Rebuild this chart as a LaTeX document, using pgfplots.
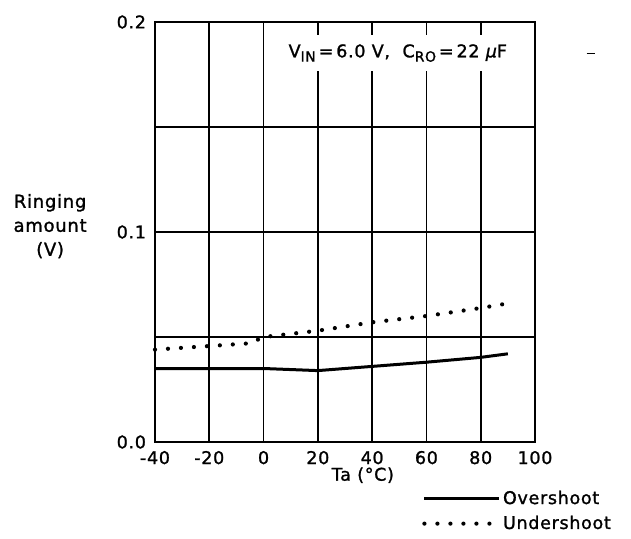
\documentclass[border=0pt]{standalone}
\usepackage{fontspec}
\setmainfont{DejaVu Sans}[LetterSpace=4, FakeBold=1.3]
\usepackage{pgfplots}
\pgfplotsset{compat=1.18}
\begin{document}
\fontsize{17.5}{24}\selectfont
\begin{tikzpicture}
\path[use as bounding box] (-155pt,-96pt) rectangle (476pt,442pt);
\begin{axis}[
  scale only axis, width=380pt, height=420pt,
  anchor=south west, at={(0pt,0pt)},
  xmin=-40, xmax=100, ymin=0, ymax=0.2,
  xtick={-40,-20,...,100}, ytick={0,0.1,0.2},
  extra y ticks={0.05,0.15}, extra y tick labels={},
  extra y tick style={grid=major},
  grid=major, major grid style={black, line width=1.8pt},
  axis line style={line width=2pt},
  major tick length=0pt,
  tick label style={font=\fontsize{17.5}{20}\selectfont},
  /pgf/number format/assume math mode=true,
  yticklabel style={/pgf/number format/fixed, /pgf/number format/fixed zerofill, /pgf/number format/precision=1, xshift=-3pt},
  xticklabel style={yshift=-3pt},
  xlabel={Ta (°C)},
  xlabel style={at={(rel axis cs:0.547,-0.079)}, anchor=center},
  clip=false,
  legend style={at={(rel axis cs:0.703,-0.112)}, anchor=north west, draw=none, fill=none, inner sep=0pt, row sep=6pt, font=\fontsize{17.5}{20}\selectfont, nodes={inner sep=1.5pt}},
  legend cell align=left,
  legend image code/.code={\draw[#1] (0pt,0pt) -- (75pt,0pt);},
]
\addplot[black, line width=3pt] coordinates {
  (-40,0.035) (0,0.035) (20,0.034) (40,0.036) (60,0.038) (80,0.0403) (90,0.042)
};
\addlegendentry{Overshoot}
\addplot[black, line width=4.2pt, line cap=round, dash pattern=on 0pt off 13pt] coordinates {
  (-40,0.044) (-20,0.0457) (-5,0.047) (0,0.050) (20,0.053) (40,0.057) (60,0.060) (80,0.0638) (90,0.066)
};
\addlegendentry{Undershoot}
\node[align=center, font=\fontsize{18}{24}\selectfont] at (rel axis cs:-0.276,0.514) {Ringing\\amount\\(V)};
\node[fill=white, inner xsep=2pt, inner ysep=9pt] at (rel axis cs:0.639,0.926) {V\raisebox{-0.45ex}{\fontsize{14}{14}\selectfont IN}\,=\,6.0 V,\ \ C\raisebox{-0.45ex}{\fontsize{14}{14}\selectfont RO}\,=\,22 {\itshape μ}F};
\draw[line width=1.8pt] (axis cs:119,0.185) -- (axis cs:122,0.185);
\end{axis}
\end{tikzpicture}
\end{document}
